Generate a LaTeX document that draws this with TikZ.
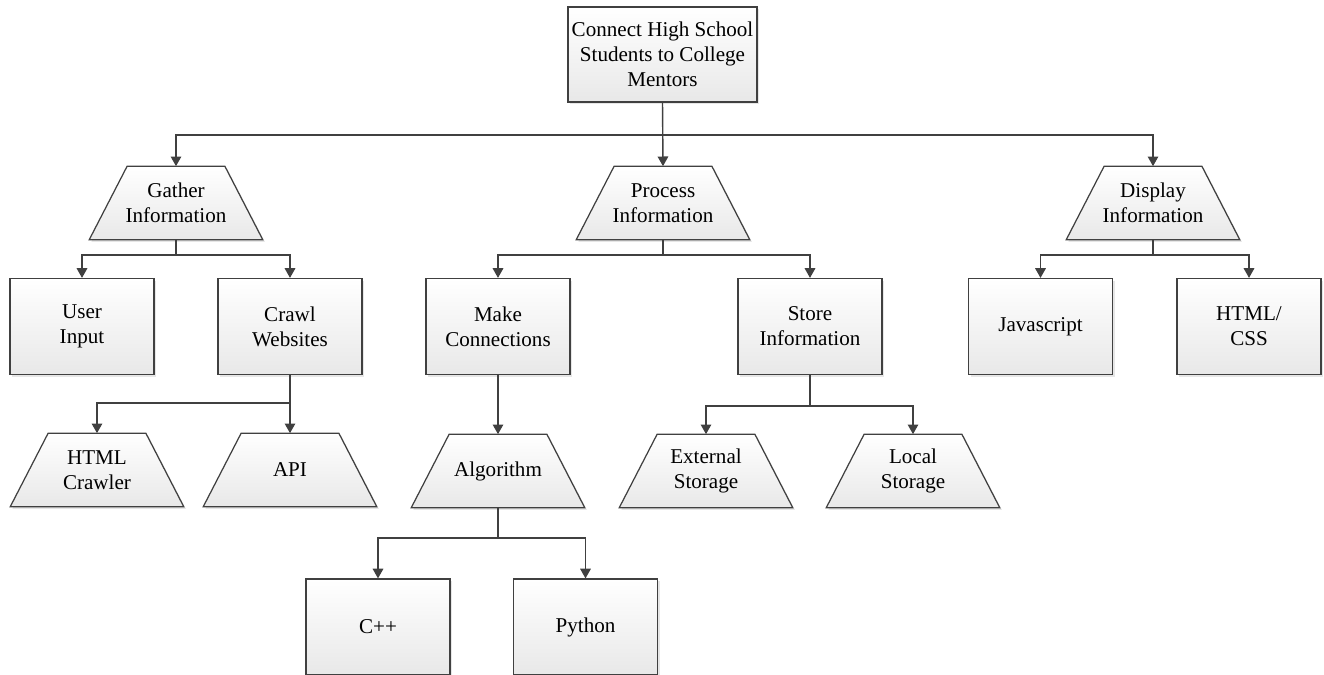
\documentclass[tikz,border=0pt]{standalone}
\usepackage{fontspec}
\setmainfont{Liberation Serif}
\usepackage{tikz}
\usetikzlibrary{arrows.meta,shadows,backgrounds}
\definecolor{edgegray}{HTML}{404040}
\begin{document}
\begin{tikzpicture}[x=0.02cm,y=-0.02cm,
  font=\fontsize{12}{14.2}\selectfont,
  every node/.style={align=center,inner sep=1pt},
  shaded/.style={draw=edgegray,line width=0.7pt,top color=white,bottom color=gray!18,
    drop shadow={opacity=0.2,shadow xshift=1.2pt,shadow yshift=-1.2pt}},
  taskbox/.style={shaded,rectangle,minimum width=2.88cm,minimum height=1.92cm},
  stagebox/.style={rectangle,minimum width=3.46cm,minimum height=1.46cm},
  link/.style={draw=edgegray,line width=0.8pt,-{Triangle[width=6pt,length=5.5pt]}}]
\useasboundingbox (0,0) rectangle (1324,674);
\node [shaded,rectangle,minimum width=3.78cm,minimum height=1.9cm] (root) at (662.5,54.5) {Connect High School\\Students to College\\Mentors};
\node [stagebox] (gather) at (176,203) {Gather\\Information};
\node [stagebox] (process) at (663,203) {Process\\Information};
\node [stagebox] (display) at (1153,203) {Display\\Information};
\node [taskbox] (userin) at (82,326.5) {User\\Input};
\node [taskbox] (crawl) at (290,326.5) {Crawl\\Websites};
\node [taskbox] (makeconn) at (498,326.5) {Make\\Connections};
\node [taskbox] (store) at (810,326.5) {Store\\Information};
\node [taskbox] (jscript) at (1040.5,326.5) {Javascript};
\node [taskbox] (htmlcss) at (1249,326.5) {HTML/\\CSS};
\node [stagebox] (crawler) at (97,470) {HTML\\Crawler};
\node [stagebox] (api) at (290,470) {API};
\node [stagebox] (algo) at (498,471) {Algorithm};
\node [stagebox] (extstore) at (706,471) {External\\Storage};
\node [stagebox] (locstore) at (913,471) {Local\\Storage};
\node [taskbox] (cpp) at (378,627) {C++};
\node [taskbox] (python) at (585.5,627) {Python};
\begin{scope}[on background layer]
\foreach \n in {gather,process,display,crawler,api,algo,extstore,locstore}
  \path [shaded] (\n.south west) -- ([xshift=0.76cm]\n.north west)
    -- ([xshift=-0.76cm]\n.north east) -- (\n.south east) -- cycle;
\end{scope}
\draw [link] (root.south) -- (root.south |- 0,135) -| (gather.north);
\draw [link] (root.south) -- (process.north);
\draw [link] (root.south) -- (root.south |- 0,135) -| (display.north);
\draw [link] (gather.south) -- (gather.south |- 0,255) -| (userin.north);
\draw [link] (gather.south) -- (gather.south |- 0,255) -| (crawl.north);
\draw [link] (process.south) -- (process.south |- 0,255) -| (makeconn.north);
\draw [link] (process.south) -- (process.south |- 0,255) -| (store.north);
\draw [link] (display.south) -- (display.south |- 0,255) -| (jscript.north);
\draw [link] (display.south) -- (display.south |- 0,255) -| (htmlcss.north);
\draw [link] (crawl.south) -- (crawl.south |- 0,403) -| (crawler.north);
\draw [link] (crawl.south) -- (api.north);
\draw [link] (makeconn.south) -- (algo.north);
\draw [link] (store.south) -- (store.south |- 0,406) -| (extstore.north);
\draw [link] (store.south) -- (store.south |- 0,406) -| (locstore.north);
\draw [link] (algo.south) -- (algo.south |- 0,538) -| (cpp.north);
\draw [link] (algo.south) -- (algo.south |- 0,538) -| (python.north);
\end{tikzpicture}
\end{document}
